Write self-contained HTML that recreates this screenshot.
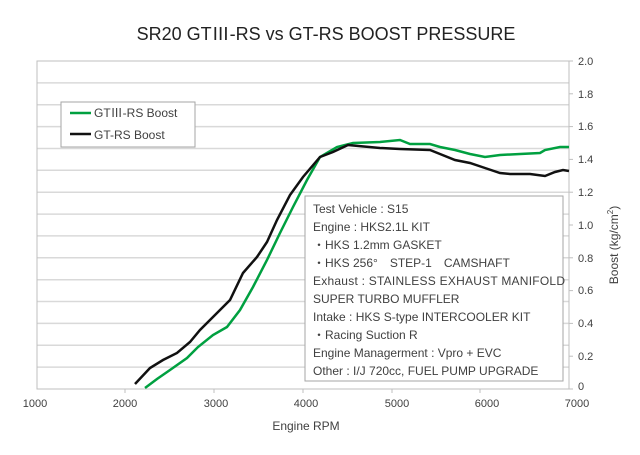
<!DOCTYPE html>
<html><head><meta charset="utf-8"><style>
body{margin:0;background:#fff;}
svg text{font-family:"Liberation Sans","Noto Sans CJK JP",sans-serif;fill:#404040;}
</style></head><body>
<svg width="640" height="450" viewBox="0 0 640 450" xmlns="http://www.w3.org/2000/svg">
<rect width="640" height="450" fill="#fff"/>
<g stroke="#d9d9d9" stroke-width="1.5">
<line x1="37" x2="569" y1="82.9" y2="82.9"/><line x1="37" x2="569" y1="104.7" y2="104.7"/>
<line x1="37" x2="569" y1="126.6" y2="126.6"/><line x1="37" x2="569" y1="148.5" y2="148.5"/>
<line x1="37" x2="569" y1="170.3" y2="170.3"/><line x1="37" x2="569" y1="192.2" y2="192.2"/>
<line x1="37" x2="569" y1="214.1" y2="214.1"/><line x1="37" x2="569" y1="235.9" y2="235.9"/>
<line x1="37" x2="569" y1="257.8" y2="257.8"/><line x1="37" x2="569" y1="279.7" y2="279.7"/>
<line x1="37" x2="569" y1="301.5" y2="301.5"/><line x1="37" x2="569" y1="323.4" y2="323.4"/>
<line x1="37" x2="569" y1="345.3" y2="345.3"/><line x1="37" x2="569" y1="367.1" y2="367.1"/>
</g>
<rect x="37" y="61" width="532" height="328" fill="none" stroke="#bfbfbf" stroke-width="1"/>
<g stroke="#bfbfbf"><line x1="569" x2="573" y1="61" y2="61"/><line x1="569" x2="573" y1="93.8" y2="93.8"/><line x1="569" x2="573" y1="126.6" y2="126.6"/><line x1="569" x2="573" y1="159.4" y2="159.4"/><line x1="569" x2="573" y1="192.2" y2="192.2"/><line x1="569" x2="573" y1="225" y2="225"/><line x1="569" x2="573" y1="257.8" y2="257.8"/><line x1="569" x2="573" y1="290.6" y2="290.6"/><line x1="569" x2="573" y1="323.4" y2="323.4"/><line x1="569" x2="573" y1="356.2" y2="356.2"/><line x1="569" x2="573" y1="389" y2="389"/>
<line x1="125" x2="125" y1="389" y2="393"/><line x1="214" x2="214" y1="389" y2="393"/><line x1="303" x2="303" y1="389" y2="393"/><line x1="392" x2="392" y1="389" y2="393"/><line x1="480" x2="480" y1="389" y2="393"/></g>
<g font-size="11">
<text x="578" y="65">2.0</text><text x="578" y="98">1.8</text><text x="578" y="130">1.6</text><text x="578" y="163">1.4</text><text x="578" y="196">1.2</text><text x="578" y="229">1.0</text><text x="578" y="262">0.8</text><text x="578" y="294">0.6</text><text x="578" y="327">0.4</text><text x="578" y="360">0.2</text><text x="578" y="390">0</text>
</g>
<g font-size="11" text-anchor="middle">
<text x="35" y="407">1000</text><text x="125" y="407">2000</text><text x="216" y="407">3000</text><text x="306" y="407">4000</text><text x="397" y="407">5000</text><text x="487" y="407">6000</text><text x="577" y="407">7000</text>
</g>
<text x="326" y="40" font-size="18" text-anchor="middle" style="fill:#222">SR20 GTⅢ-RS vs GT-RS BOOST PRESSURE</text>
<text x="306" y="430" font-size="12" text-anchor="middle">Engine RPM</text>
<text transform="translate(618,245) rotate(-90)" font-size="12" text-anchor="middle">Boost (kg/cm<tspan font-size="8" dy="-5">2</tspan><tspan dy="5">)</tspan></text>
<polyline fill="none" stroke="#00a040" stroke-width="2.5" points="145,388 157,379 170,370 187,358 198,347 213,335 227,327 240,310 253,287 267,260 280,233 293,207 307,180 320,157 337,147 353,143 380,142 400,140 410,144 430,144 440,147 455,150 470,154 485,157 500,155 520,154 540,153 545,150 560,147 569,147"/>
<polyline fill="none" stroke="#111" stroke-width="2.5" points="135,384 150,368 163,360 177,353 190,342 200,330 217,313 230,300 243,273 257,257 267,242 277,220 290,195 303,177 320,157 333,152 348,145 380,148 400,149 430,150 440,154 455,160 470,163 485,168 500,173 510,174 530,174 545,176 555,172 563,170 569,171"/>
<rect x="61" y="102" width="134" height="45" fill="#fff" stroke="#a6a6a6"/>
<line x1="70" x2="91" y1="113" y2="113" stroke="#00a040" stroke-width="2.5"/>
<line x1="70" x2="91" y1="134" y2="134" stroke="#111" stroke-width="2.5"/>
<text x="94" y="117" font-size="12">GTⅢ-RS Boost</text>
<text x="94" y="139" font-size="12">GT-RS Boost</text>
<rect x="305" y="196" width="258" height="185" fill="#fff" stroke="#a6a6a6"/>
<g font-size="12">
<text x="313" y="213">Test Vehicle : S15</text>
<text x="313" y="231">Engine : HKS2.1L KIT</text>
<text x="313" y="249">・HKS 1.2mm GASKET</text>
<text x="313" y="267">・HKS 256°　STEP-1　CAMSHAFT</text>
<text x="313" y="285" textLength="252">Exhaust : STAINLESS EXHAUST MANIFOLD</text>
<text x="313" y="303">SUPER TURBO MUFFLER</text>
<text x="313" y="321">Intake : HKS S-type INTERCOOLER KIT</text>
<text x="313" y="339">・Racing Suction R</text>
<text x="313" y="357">Engine Managerment : Vpro + EVC</text>
<text x="313" y="375">Other : I/J 720cc, FUEL PUMP UPGRADE</text>
</g>
</svg>
</body></html>
